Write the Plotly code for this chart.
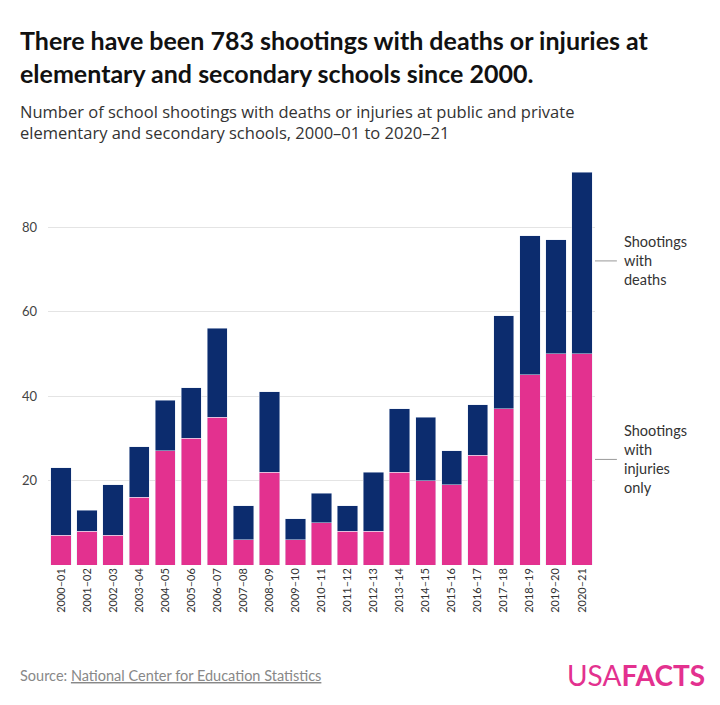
import plotly.graph_objects as go

years = ["2000–01","2001–02","2002–03","2003–04","2004–05","2005–06","2006–07","2007–08",
         "2008–09","2009–10","2010–11","2011–12","2012–13","2013–14","2014–15","2015–16",
         "2016–17","2017–18","2018–19","2019–20","2020–21"]
totals = [23,13,19,28,39,42,56,14,41,11,17,14,22,37,35,27,38,59,78,77,93]
injuries_only = [7,8,7,16,27,30,35,6,22,6,10,8,8,22,20,19,26,37,45,50,50]
with_deaths = [t - i for t, i in zip(totals, injuries_only)]

PINK = "#e3318f"
NAVY = "#0c2c6e"

fig = go.Figure()
fig.add_trace(go.Bar(x=years, y=injuries_only, marker_color=PINK, name="Shootings with injuries only"))
fig.add_trace(go.Bar(x=years, y=with_deaths, marker_color=NAVY, name="Shootings with deaths"))

fig.update_layout(
    barmode="stack", bargap=0.22, showlegend=False,
    width=720, height=705, plot_bgcolor="white", paper_bgcolor="white",
    margin=dict(l=40, r=133, t=160, b=148),
    font=dict(family="Lato, Open Sans, sans-serif", color="#333"),
    xaxis=dict(tickangle=-90, tickfont=dict(size=11, color="#333"), showline=False, ticks=""),
    yaxis=dict(range=[0, 94], tickvals=[20, 40, 60, 80], gridcolor="#e4e4e4",
               zeroline=False, tickfont=dict(size=13, color="#444"), ticks="", ticklabelstandoff=10),
)

fig.add_annotation(text="<b>There have been 783 shootings with deaths or injuries at<br>elementary and secondary schools since 2000.</b>",
                   xref="paper", yref="paper", x=-0.055, y=1.0, yshift=145, xanchor="left", yanchor="top",
                   align="left", showarrow=False, font=dict(size=25, color="#111", family="Lato"))
fig.add_annotation(text="Number of school shootings with deaths or injuries at public and private<br>elementary and secondary schools, 2000–01 to 2020–21",
                   xref="paper", yref="paper", x=-0.055, y=1.0, yshift=70, xanchor="left", yanchor="top",
                   align="left", showarrow=False, font=dict(size=16.5, color="#333", family="Open Sans"))

for label, yv in [("Shootings<br>with<br>deaths", 72), ("Shootings<br>with<br>injuries<br>only", 25)]:
    fig.add_annotation(text=label, xref="paper", yref="y", x=1.05, y=yv, xanchor="left",
                       align="left", showarrow=False, font=dict(size=14.5, color="#333"))
    fig.add_shape(type="line", xref="paper", yref="y", x0=1.0, x1=1.04, y0=yv, y1=yv,
                  line=dict(color="#999", width=1))

fig.add_annotation(text="Source: <span style='text-decoration:underline'>National Center for Education Statistics</span>",
                   xref="paper", yref="paper", x=-0.055, y=0, yshift=-110, xanchor="left", yanchor="middle",
                   showarrow=False, font=dict(size=14.5, color="#888"))
fig.add_annotation(text="USA<b>FACTS</b>", xref="paper", yref="paper", x=1.205, y=0, yshift=-110,
                   xanchor="right", yanchor="middle", showarrow=False,
                   font=dict(size=28, color=PINK, family="Lato, sans-serif"))

fig.write_html("out.html")
